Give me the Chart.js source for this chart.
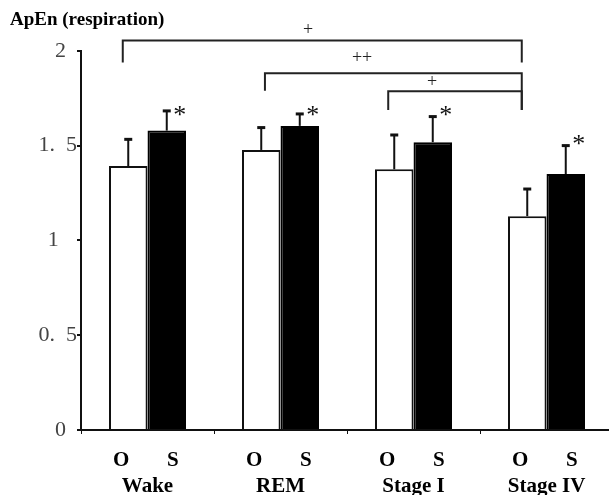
<!DOCTYPE html>
<html>
<head>
<meta charset="utf-8">
<script src="https://cdn.jsdelivr.net/npm/chart.js@4.4.1/dist/chart.umd.min.js"></script>
<style>
html,body{margin:0;padding:0;background:#fff;overflow:hidden;}
#wrap{width:609px;height:495px;position:relative;}
</style>
</head>
<body>
<div id="wrap"><canvas id="c" width="609" height="495"></canvas></div>
<script>
// ---- data ----
const categories = ['Wake', 'REM', 'Stage I', 'Stage IV'];
const groupLabels = ['O', 'S'];
const oMeans = [1.392, 1.477, 1.375, 1.128];
const oErrors = [0.141, 0.118, 0.181, 0.143];
const sMeans = [1.579, 1.604, 1.518, 1.350];
const sErrors = [0.104, 0.063, 0.135, 0.150];
const yTickValues = [0, 0.5, 1, 1.5, 2];
const yTickLabels = ['0\u2002', '0.\u20025', '1\u2002\u2004', '1.\u20025', '2\u2002'];
const significanceMarks = ['*', '*', '*', '*'];
const significanceHeights = [1.68, 1.685, 1.685, 1.53];
// brackets: x positions in category units, heights in value units
const bracketFrom = [-0.186, 0.883, 1.81];
const bracketTo = [2.814, 2.814, 2.814];
const bracketTop = [2.054, 1.882, 1.786];
const bracketLeftEnd = [1.938, 1.789, 1.688];
const bracketRightEnd = [1.938, 1.688, 1.688];
const bracketLabels = ['+', '++', '+'];
const bracketLabelX = [1.207, 1.613, 2.14];
const bracketLabelY = [2.12, 1.975, 1.844];

const serif = '"Liberation Serif", "Times New Roman", serif';

function centeredText(ctx, text, x, cy) {
  const m = ctx.measureText(text);
  const off = (m.actualBoundingBoxAscent - m.actualBoundingBoxDescent) / 2;
  ctx.textBaseline = 'alphabetic';
  ctx.fillText(text, x, cy + off);
}

// the original plot area runs a little past the right edge of the picture
const overflowPlugin = {
  id: 'overflow',
  afterLayout(chart) {
    const extra = 4;
    const xs = chart.scales.x;
    xs.right += extra;
    xs.width += extra;
    xs.configure();
    chart.chartArea.right += extra;
    chart.chartArea.width += extra;
  }
};

const extrasPlugin = {
  id: 'extras',
  afterDatasetsDraw(chart) {
    const ctx = chart.ctx;
    const xs = chart.scales.x, ys = chart.scales.y;
    ctx.save();

    const errs = [oErrors, sErrors];
    const means = [oMeans, sMeans];
    chart.data.datasets.forEach((ds, di) => {
      const meta = chart.getDatasetMeta(di);
      meta.data.forEach((el, i) => {
        const top = ys.getPixelForValue(means[di][i] + errs[di][i]);
        ctx.strokeStyle = '#111';
        ctx.lineWidth = 2;
        ctx.beginPath();
        ctx.moveTo(el.x, el.y);
        ctx.lineTo(el.x, top);
        ctx.stroke();
        ctx.lineWidth = 3;
        ctx.beginPath();
        ctx.moveTo(el.x - 4, top);
        ctx.lineTo(el.x + 4, top);
        ctx.stroke();
        if (di === 1) {
          ctx.fillStyle = '#111';
          ctx.font = '26px ' + serif;
          ctx.textAlign = 'center';
          centeredText(ctx, significanceMarks[i], el.x + 13, ys.getPixelForValue(significanceHeights[i]));
        }
        ctx.fillStyle = '#000';
        ctx.font = 'bold 21px ' + serif;
        ctx.textAlign = 'center';
        centeredText(ctx, groupLabels[di], el.x + (di === 0 ? -7 : 6), ys.getPixelForValue(0) + 29);
      });
    });

    const catW = xs.getPixelForValue(1) - xs.getPixelForValue(0);
    const px = v => xs.getPixelForValue(0) + v * catW;
    ctx.strokeStyle = '#222';
    ctx.lineWidth = 2;
    for (let b = 0; b < bracketLabels.length; b++) {
      const x1 = px(bracketFrom[b]), x2 = px(bracketTo[b]);
      const yt = ys.getPixelForValue(bracketTop[b]);
      ctx.beginPath();
      ctx.moveTo(x1, ys.getPixelForValue(bracketLeftEnd[b]));
      ctx.lineTo(x1, yt);
      ctx.lineTo(x2, yt);
      ctx.lineTo(x2, ys.getPixelForValue(bracketRightEnd[b]));
      ctx.stroke();
      ctx.fillStyle = '#222';
      ctx.font = '18px ' + serif;
      ctx.textAlign = 'center';
      centeredText(ctx, bracketLabels[b], px(bracketLabelX[b]), ys.getPixelForValue(bracketLabelY[b]));
    }
    ctx.restore();
  }
};

new Chart(document.getElementById('c'), {
  type: 'bar',
  data: {
    labels: categories,
    datasets: [
      { label: groupLabels[0], data: oMeans, backgroundColor: '#ffffff', borderColor: '#111', borderWidth: 2, borderSkipped: 'bottom' },
      { label: groupLabels[1], data: sMeans, backgroundColor: '#000000', borderColor: '#000', borderWidth: 2, borderSkipped: 'bottom' }
    ]
  },
  options: {
    responsive: false,
    animation: false,
    devicePixelRatio: 1,
    layout: { padding: { left: 10, right: 0, top: 0, bottom: 0 } },
    datasets: { bar: { categoryPercentage: 0.579, barPercentage: 1.0 } },
    plugins: {
      legend: { display: false },
      tooltip: { enabled: false },
      title: {
        display: true,
        text: 'ApEn (respiration)',
        align: 'start',
        color: '#000',
        font: { family: serif, size: 19, weight: 'bold' },
        padding: { top: 9, bottom: 19 }
      }
    },
    scales: {
      x: {
        grid: { display: true, drawOnChartArea: false, offset: true, tickLength: 4, color: '#111', lineWidth: 1 },
        border: { display: true, color: '#111', width: 2 },
        ticks: { color: '#000', font: { family: serif, size: 21, weight: 'bold', lineHeight: 3 }, padding: 21 },
        afterFit(scale) { scale.height = 65; }
      },
      y: {
        min: 0, max: 2,
        afterBuildTicks(scale) { scale.ticks = yTickValues.map(v => ({ value: v })); },
        grid: { display: true, drawOnChartArea: false, tickLength: 4, color: '#111', lineWidth: 2 },
        border: { display: true, color: '#111', width: 2 },
        ticks: {
          color: '#444',
          font: { family: serif, size: 22 },
          padding: 0,
          callback: (v) => { const i = yTickValues.indexOf(v); return i >= 0 ? yTickLabels[i] : ''; }
        },
        afterFit(scale) { scale.width = 71; }
      }
    }
  },
  plugins: [overflowPlugin, extrasPlugin]
});
</script>
</body>
</html>
